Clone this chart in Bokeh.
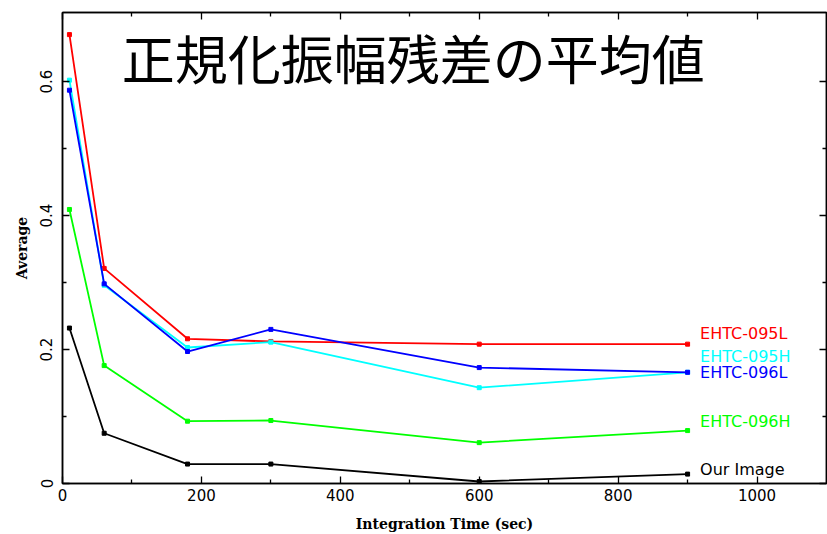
from bokeh.plotting import figure
from bokeh.models import ColumnDataSource, LinearAxis, FixedTicker, Label, Range1d, CustomJSTickFormatter
from bokeh.embed import file_html
from bokeh.resources import INLINE

# ---- data ----
integration_time = [10, 60, 180, 300, 600, 900]
ehtc_095l = [0.670, 0.321, 0.216, 0.212, 0.208, 0.208]
ehtc_095h = [0.602, 0.296, 0.203, 0.211, 0.143, 0.166]
ehtc_096l = [0.587, 0.298, 0.197, 0.230, 0.173, 0.166]
ehtc_096h = [0.409, 0.176, 0.093, 0.094, 0.061, 0.079]
our_image = [0.232, 0.075, 0.029, 0.029, 0.003, 0.014]
series_names = ["EHTC-095L", "EHTC-095H", "EHTC-096L", "EHTC-096H", "Our Image"]
x_ticks = [0, 200, 400, 600, 800, 1000]
x_minor = [100, 300, 500, 700, 900]
y_ticks = [0, 0.2, 0.4, 0.6]
y_minor = [0.1, 0.3, 0.5]
title_text = "正規化振幅残差の平均値"
x_title = "Integration Time (sec)"
y_title = "Average"

# ---- styling / layout ----
series_values = [ehtc_095l, ehtc_095h, ehtc_096l, ehtc_096h, our_image]
colors = ["#ff0000", "#00ffff", "#0000ff", "#00ff00", "#000000"]
label_x = 918
label_y = [0.224, 0.189, 0.165, 0.093, 0.021]
TICK_FONT = "DejaVu Sans"

p = figure(width=827, height=534, output_backend="svg", toolbar_location=None,
           x_range=Range1d(0, 1100), y_range=Range1d(0, 0.703),
           min_border_left=62, min_border_right=1, min_border_top=12, min_border_bottom=51,
           background_fill_color="white", border_fill_color="white")
p.xgrid.visible = False
p.ygrid.visible = False
p.outline_line_color = "black"
p.outline_line_width = 1.5

xt = FixedTicker(ticks=x_ticks, minor_ticks=x_minor)
yt = FixedTicker(ticks=y_ticks, minor_ticks=y_minor)
blank = CustomJSTickFormatter(code="return '';")

def style_axis(ax, ticker, show_labels):
    ax.ticker = ticker
    ax.major_tick_in = 7
    ax.major_tick_out = 0
    ax.minor_tick_in = 4
    ax.minor_tick_out = 0
    ax.axis_line_color = "black"
    ax.axis_line_width = 1.5
    ax.major_tick_line_width = 1.3
    ax.minor_tick_line_width = 1.3
    ax.major_label_text_color = "black"
    ax.axis_label_text_color = "black"
    if not show_labels:
        ax.formatter = blank
        ax.major_label_standoff = 0

style_axis(p.xaxis[0], xt, True)
style_axis(p.yaxis[0], yt, True)
p.xaxis.major_label_text_font = TICK_FONT
p.xaxis.major_label_text_font_size = "15px"
p.xaxis.major_label_standoff = 5
p.xaxis.axis_label = x_title
p.xaxis.axis_label_text_font = "DejaVu Serif"
p.xaxis.axis_label_text_font_style = "bold"
p.xaxis.axis_label_text_font_size = "14px"
p.xaxis.axis_label_standoff = 12

p.yaxis.major_label_text_font = TICK_FONT
p.yaxis.major_label_text_font_size = "15px"
p.yaxis.major_label_orientation = "vertical"
p.yaxis.major_label_standoff = 10
p.yaxis.major_label_overrides = {0: "0"}
p.yaxis.axis_label = y_title
p.yaxis.axis_label_text_font = "DejaVu Serif"
p.yaxis.axis_label_text_font_style = "bold"
p.yaxis.axis_label_text_font_size = "14px"
p.yaxis.axis_label_standoff = 8

top_ax = LinearAxis()
style_axis(top_ax, xt, False)
p.add_layout(top_ax, "above")
right_ax = LinearAxis()
style_axis(right_ax, yt, False)
p.add_layout(right_ax, "right")

for name, vals, col, ly in zip(series_names, series_values, colors, label_y):
    src = ColumnDataSource(dict(x=integration_time, y=vals))
    p.line("x", "y", source=src, line_color=col, line_width=1.8)
    p.scatter("x", "y", source=src, marker="square", size=4, fill_color=col, line_color=col)
    p.add_layout(Label(x=label_x, y=ly, text=name, text_color=col, text_font=TICK_FONT,
                       text_font_size="16px", text_baseline="middle", text_align="left"))

p.add_layout(Label(x=505, y=0.637, text=title_text, text_font="Noto Sans CJK JP",
                   text_font_size="53px", text_color="black", text_align="center",
                   text_baseline="middle"))

open("out.html", "w").write(file_html(p, INLINE))
